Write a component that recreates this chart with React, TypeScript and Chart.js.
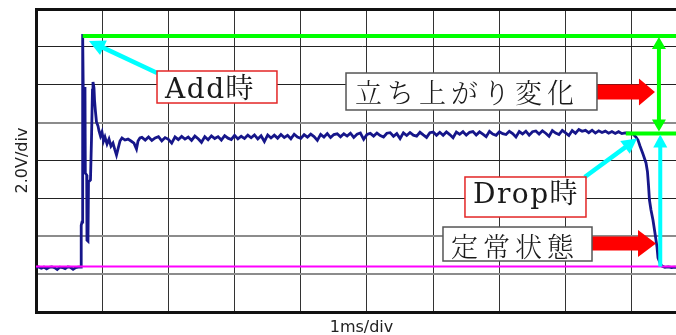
import React, { useEffect, useRef } from 'react';
import { Chart, registerables } from 'chart.js';

Chart.register(...registerables);

// ---- axis ranges / grid (1 ms/div, 2.0 V/div) ----
const X_MAX_MS = 9.834;
const Y_MIN_V = -2.4;
const Y_MAX_V = 13.6;
const X_GRID_MS = [0, 1, 2, 3, 4, 5, 6, 7, 8, 9];
const Y_GRID_V = [-2.4, -0.4, 1.6, 3.6, 5.6, 7.6, 9.6, 11.6, 13.6];

// ---- reference levels ----
const GROUND_V = 0;
const PEAK_LEVEL_V = 12.17;
const DROP_LEVEL_V = 7.02;
const PEAK_LINE_START_MS = 0.705;
const DROP_LINE_START_MS = 8.91;

// ---- measured waveform (time in ms, voltage in V) ----
const TIME_MS = [
  0.00, 0.04, 0.08, 0.12, 0.16, 0.20, 0.24, 0.28, 0.32, 0.36, 0.40, 0.44, 0.48, 0.52, 0.56, 0.60, 0.64,
  0.680, 0.683, 0.695, 0.705, 0.713, 0.740, 0.745, 0.766, 0.770, 0.785, 0.793, 0.823, 0.838, 0.853, 0.861,
  0.876, 0.884, 0.899, 0.914, 0.937, 0.952, 0.974, 0.997, 1.020, 1.042, 1.073, 1.103, 1.133, 1.163, 1.193,
  1.216, 1.239, 1.269, 1.299, 1.344, 1.390, 1.435, 1.480, 1.518, 1.541, 1.570,
  1.60, 1.65, 1.70, 1.75, 1.80, 1.85, 1.90, 1.95, 2.00, 2.05,
  2.10, 2.15, 2.20, 2.25, 2.30, 2.35, 2.40, 2.45, 2.50, 2.55,
  2.60, 2.65, 2.70, 2.75, 2.80, 2.85, 2.90, 2.95, 3.00, 3.05,
  3.10, 3.15, 3.20, 3.25, 3.30, 3.35, 3.40, 3.45, 3.50, 3.55,
  3.60, 3.65, 3.70, 3.75, 3.80, 3.85, 3.90, 3.95, 4.00, 4.05,
  4.10, 4.15, 4.20, 4.25, 4.30, 4.35, 4.40, 4.45, 4.50, 4.55,
  4.60, 4.65, 4.70, 4.75, 4.80, 4.85, 4.90, 4.95, 5.00, 5.05,
  5.10, 5.15, 5.20, 5.25, 5.30, 5.35, 5.40, 5.45, 5.50, 5.55,
  5.60, 5.65, 5.70, 5.75, 5.80, 5.85, 5.90, 5.95, 6.00, 6.05,
  6.10, 6.15, 6.20, 6.25, 6.30, 6.35, 6.40, 6.45, 6.50, 6.55,
  6.60, 6.65, 6.70, 6.75, 6.80, 6.85, 6.90, 6.95, 7.00, 7.05,
  7.10, 7.15, 7.20, 7.25, 7.30, 7.35, 7.40, 7.45, 7.50, 7.55,
  7.60, 7.65, 7.70, 7.75, 7.80, 7.85, 7.90, 7.95, 8.00, 8.05,
  8.10, 8.15, 8.20, 8.25, 8.30, 8.35, 8.40, 8.45, 8.50, 8.55,
  8.60, 8.65, 8.70, 8.75, 8.80, 8.85, 8.90,
  8.973, 9.018, 9.063, 9.094, 9.124, 9.169, 9.215, 9.237, 9.252, 9.267, 9.290, 9.320, 9.350, 9.381,
  9.396, 9.426, 9.456, 9.50, 9.55, 9.60, 9.65, 9.70, 9.75, 9.80, 9.85,
];

const VOLTS = [
  -0.05, -0.02, -0.09, -0.03, -0.12, -0.04, -0.02, -0.06, -0.15, -0.03, -0.05, -0.11, -0.02, -0.04, -0.14, -0.05, -0.03,
  -0.03, 2.17, 2.35, 12.28, 9.48, 9.43, 4.94, 4.83, 1.40, 1.35, 4.46, 4.57, 6.68, 9.32, 9.74,
  9.43, 8.79, 8.16, 7.63, 7.42, 7.16, 6.89, 7.10, 6.63, 6.84, 6.47, 6.73, 6.36, 6.52, 6.15,
  5.89, 6.21, 6.63, 6.79, 6.68, 6.73, 6.63, 6.52, 6.21, 6.63, 6.79,
  6.82, 6.68, 6.84, 6.66, 6.79, 6.86, 6.64, 6.81, 6.72, 6.52,
  6.85, 6.70, 6.87, 6.73, 6.84, 6.66, 6.89, 6.75, 6.56, 6.86,
  6.70, 6.90, 6.76, 6.86, 6.68, 6.91, 6.78, 6.71, 6.93, 6.74,
  6.88, 6.76, 6.94, 6.80, 6.95, 6.74, 6.91, 6.60, 6.95, 6.79,
  6.94, 6.78, 6.97, 6.81, 6.93, 6.75, 6.99, 6.84, 6.77, 6.96,
  6.83, 6.99, 6.86, 6.66, 6.98, 6.84, 7.02, 6.81, 6.97, 7.01,
  6.85, 7.01, 6.89, 7.04, 6.82, 6.99, 7.05, 6.72, 6.98, 7.03,
  6.89, 7.05, 6.92, 6.84, 7.04, 7.07, 6.88, 7.02, 6.76, 7.06,
  6.92, 7.08, 6.94, 6.89, 7.09, 6.95, 6.82, 7.07, 7.10, 6.93,
  7.09, 6.93, 7.11, 6.97, 6.80, 7.10, 6.98, 7.12, 6.94, 7.09,
  7.13, 6.95, 7.11, 6.99, 6.86, 7.14, 7.00, 6.93, 7.12, 7.02,
  6.97, 7.14, 7.02, 6.84, 7.13, 7.00, 7.15, 6.94, 7.12, 7.16,
  7.00, 7.17, 7.04, 6.88, 7.18, 7.05, 6.97, 7.19, 7.06, 6.92,
  7.18, 7.04, 7.24, 7.14, 7.19, 7.07, 7.20, 7.05, 7.17, 7.08,
  7.15, 7.04, 7.13, 7.03, 7.12, 7.02, 7.06,
  7.05, 7.00, 6.84, 6.68, 6.37, 5.94, 5.47, 5.00, 4.31, 3.51, 2.99, 2.46, 1.77, 1.03,
  0.45, 0.19, 0.02, -0.04, -0.02, -0.05, -0.03, -0.04, -0.02, -0.05, -0.03,
];

// ---- annotation texts ----
const LABEL_ADD = 'Add時';
const LABEL_RISE = '立ち上がり変化';
const LABEL_DROP = 'Drop時';
const LABEL_STEADY = '定常状態';

// annotation placement (data coordinates: ms, V)
const LEVEL_ARROW_MS = 9.41;
const RISE_ARROW_MS = 9.43;
const ADD_POINTER = { fromT: 1.83, fromV: 10.22, toT: 0.80, toV: 11.91 };
const DROP_POINTER = { fromT: 8.29, fromV: 4.73, toT: 9.08, toV: 6.76 };
const RISE_BLOCK = { fromT: 8.474, toT: 9.35, v: 9.22 };
const STEADY_BLOCK = { fromT: 8.399, toT: 9.366, v: 1.22 };

const SERIF = '28px "DejaVu Serif", "Liberation Serif", "Noto Serif CJK JP", "Noto Sans CJK JP", serif';
const CJK = '300 27px "Noto Serif CJK JP", "Noto Sans CJK JP", sans-serif';

const BOXES = [
  { text: LABEL_ADD, t0: 1.828, t1: 3.64, v0: 8.636, v1: 10.326, tx: 1.949, tv: 9.3, frame: '#e32626', font: SERIF, spacing: '1.5px' },
  { text: LABEL_RISE, t0: 4.683, t1: 8.474, v0: 8.267, v1: 10.22, tx: 4.819, tv: 9.2, frame: '#555555', font: CJK, spacing: '5px' },
  { text: LABEL_DROP, t0: 6.48, t1: 8.308, v0: 2.616, v1: 4.729, tx: 6.601, tv: 3.75, frame: '#e32626', font: SERIF, spacing: '1.5px' },
  { text: LABEL_STEADY, t0: 6.148, t1: 8.399, v0: 0.293, v1: 2.088, tx: 6.269, tv: 1.06, frame: '#555555', font: CJK, spacing: '5px' },
];

const GRAY_Y_LINES = [-0.4, 1.6, 7.6];
const near = (a: number, b: number) => Math.abs(a - b) < 1e-6;

function arrowHead(ctx: CanvasRenderingContext2D, x: number, y: number, ang: number, len: number, half: number) {
  const c = Math.cos(ang), s = Math.sin(ang);
  ctx.beginPath();
  ctx.moveTo(x, y);
  ctx.lineTo(x - len * c + half * s, y - len * s - half * c);
  ctx.lineTo(x - len * c - half * s, y - len * s + half * c);
  ctx.closePath();
  ctx.fill();
}

function lineArrow(ctx: CanvasRenderingContext2D, x1: number, y1: number, x2: number, y2: number, color: string, width: number, len: number, half: number, both = false) {
  const ang = Math.atan2(y2 - y1, x2 - x1);
  const c = Math.cos(ang), s = Math.sin(ang);
  ctx.strokeStyle = color;
  ctx.fillStyle = color;
  ctx.lineWidth = width;
  ctx.lineCap = 'butt';
  ctx.beginPath();
  ctx.moveTo(both ? x1 + c * (len - 1) : x1, both ? y1 + s * (len - 1) : y1);
  ctx.lineTo(x2 - c * (len - 1), y2 - s * (len - 1));
  ctx.stroke();
  arrowHead(ctx, x2, y2, ang, len, half);
  if (both) arrowHead(ctx, x1, y1, ang + Math.PI, len, half);
}

function blockArrow(ctx: CanvasRenderingContext2D, x1: number, x2: number, y: number, shaft: number, headH: number, headLen: number) {
  const hb = x2 - headLen;
  ctx.fillStyle = '#ff0000';
  ctx.beginPath();
  ctx.moveTo(x1, y - shaft / 2);
  ctx.lineTo(hb, y - shaft / 2);
  ctx.lineTo(hb, y - headH / 2);
  ctx.lineTo(x2, y);
  ctx.lineTo(hb, y + headH / 2);
  ctx.lineTo(hb, y + shaft / 2);
  ctx.lineTo(x1, y + shaft / 2);
  ctx.closePath();
  ctx.fill();
}

const annotationPlugin = {
  id: 'scopeAnnotations',
  afterDatasetsDraw(chart: any) {
    const { ctx, scales } = chart;
    const X = (t: number) => scales.x.getPixelForValue(t);
    const Y = (v: number) => scales.y.getPixelForValue(v);
    ctx.save();
    // green double arrow between levels
    lineArrow(ctx, X(LEVEL_ARROW_MS), Y(PEAK_LEVEL_V) + 1, X(LEVEL_ARROW_MS), Y(DROP_LEVEL_V) - 2, '#00ff00', 4, 12, 7, true);
    // cyan rise arrow from ground to drop level
    lineArrow(ctx, X(RISE_ARROW_MS), Y(GROUND_V), X(RISE_ARROW_MS), Y(DROP_LEVEL_V) + 1, '#00ffff', 4, 13, 7);
    // pointers
    lineArrow(ctx, X(ADD_POINTER.fromT), Y(ADD_POINTER.fromV), X(ADD_POINTER.toT), Y(ADD_POINTER.toV), '#00ffff', 4.5, 16, 8);
    lineArrow(ctx, X(DROP_POINTER.fromT), Y(DROP_POINTER.fromV), X(DROP_POINTER.toT), Y(DROP_POINTER.toV), '#00ffff', 4.5, 15, 8);
    // red block arrows
    blockArrow(ctx, X(RISE_BLOCK.fromT), X(RISE_BLOCK.toT), Y(RISE_BLOCK.v), 15, 27, 16);
    blockArrow(ctx, X(STEADY_BLOCK.fromT), X(STEADY_BLOCK.toT), Y(STEADY_BLOCK.v), 14, 27, 18);
    // labelled boxes
    for (const b of BOXES) {
      const x0 = X(b.t0), x1 = X(b.t1), y0 = Y(b.v1), y1 = Y(b.v0);
      ctx.fillStyle = '#ffffff';
      ctx.fillRect(x0, y0, x1 - x0, y1 - y0);
      ctx.strokeStyle = b.frame;
      ctx.lineWidth = 1.5;
      ctx.strokeRect(x0, y0, x1 - x0, y1 - y0);
      ctx.fillStyle = '#1a1a1a';
      ctx.font = b.font;
      (ctx as any).letterSpacing = b.spacing;
      ctx.textAlign = 'left';
      ctx.textBaseline = 'middle';
      ctx.fillText(b.text, X(b.tx), Y(b.tv));
      (ctx as any).letterSpacing = '0px';
    }
    ctx.restore();
  },
};

export default function App() {
  const ref = useRef<HTMLCanvasElement>(null);
  useEffect(() => {
    document.body.style.margin = '0';
    const canvas = ref.current;
    if (!canvas) return;
    const chart = new Chart(canvas, {
      type: 'line',
      data: {
        datasets: [
          {
            label: 'trace',
            data: TIME_MS.map((t, i) => ({ x: t, y: VOLTS[i] })),
            borderColor: '#16168a',
            borderWidth: 2.8,
            pointRadius: 0,
            tension: 0,
            order: 5,
          },
          {
            label: 'ground',
            data: [{ x: 0, y: GROUND_V }, { x: X_MAX_MS, y: GROUND_V }],
            borderColor: '#ff00ff',
            borderWidth: 2,
            pointRadius: 0,
            order: 3,
          },
          {
            label: 'peak',
            data: [{ x: PEAK_LINE_START_MS, y: PEAK_LEVEL_V }, { x: X_MAX_MS, y: PEAK_LEVEL_V }],
            borderColor: '#00ff00',
            borderWidth: 4,
            pointRadius: 0,
            order: 2,
          },
          {
            label: 'drop',
            data: [{ x: DROP_LINE_START_MS, y: DROP_LEVEL_V }, { x: X_MAX_MS, y: DROP_LEVEL_V }],
            borderColor: '#00ff00',
            borderWidth: 4,
            pointRadius: 0,
            order: 1,
          },
        ],
      },
      options: {
        responsive: false,
        animation: false,
        devicePixelRatio: 1,
        layout: { padding: { top: 9, left: 0, right: 0, bottom: 0 } },
        plugins: { legend: { display: false }, tooltip: { enabled: false } },
        scales: {
          x: {
            type: 'linear',
            min: 0,
            max: X_MAX_MS,
            afterBuildTicks: (s: any) => { s.ticks = X_GRID_MS.map((v) => ({ value: v })); },
            afterFit: (s: any) => { s.height = 23; },
            ticks: { display: false },
            grid: { color: '#333333', lineWidth: 1, drawTicks: false },
            border: { display: true, color: '#111111', width: 3 },
            title: {
              display: true,
              text: '1ms/div',
              color: '#222222',
              font: { family: '"DejaVu Sans", sans-serif', size: 16, lineHeight: 1.2 },
              padding: { top: 0, bottom: -2 },
            },
          },
          y: {
            type: 'linear',
            min: Y_MIN_V,
            max: Y_MAX_V,
            afterBuildTicks: (s: any) => { s.ticks = Y_GRID_V.map((v) => ({ value: v })); },
            afterFit: (s: any) => { s.width = 36; },
            ticks: { display: false },
            grid: {
              drawTicks: false,
              color: (c: any) => {
                const v = c.tick ? c.tick.value : 0;
                if (near(v, Y_MAX_V) || near(v, Y_MIN_V)) return '#111111';
                return GRAY_Y_LINES.some((g) => near(g, v)) ? '#8c8c8c' : '#222222';
              },
              lineWidth: (c: any) => {
                const v = c.tick ? c.tick.value : 0;
                if (near(v, Y_MAX_V) || near(v, Y_MIN_V)) return 3;
                return GRAY_Y_LINES.some((g) => near(g, v)) ? 2 : 1;
              },
            },
            border: { display: true, color: '#111111', width: 3 },
            title: {
              display: true,
              text: '2.0V/div',
              color: '#222222',
              font: { family: '"DejaVu Sans", sans-serif', size: 16, lineHeight: 1.2 },
              padding: { top: 13, bottom: 0 },
            },
          },
        },
      },
      plugins: [annotationPlugin],
    } as any);
    return () => chart.destroy();
  }, []);

  return (
    <div style={{ width: 676, height: 335, overflow: 'hidden', background: '#ffffff' }}>
      <canvas ref={ref} width={687} height={335} style={{ display: 'block' }} />
    </div>
  );
}
